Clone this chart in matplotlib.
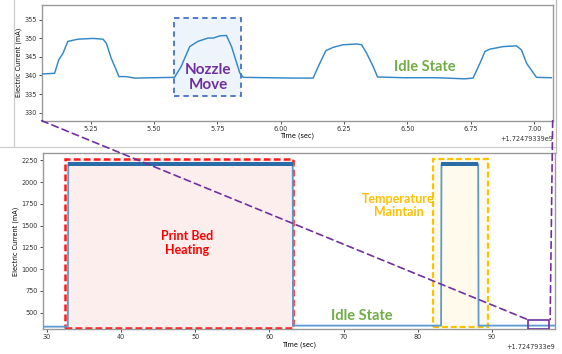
import matplotlib
matplotlib.use("Agg")
import matplotlib.pyplot as plt
from matplotlib.patches import Rectangle, ConnectionPatch
from matplotlib.lines import Line2D

# time base of the logger (epoch seconds)
T_BASE = 1724793300

# zoomed view: a few nozzle moves while idle (seconds after T_BASE + 90)
zoom_t = [5.057, 5.108, 5.124, 5.141, 5.160, 5.200, 5.259, 5.299, 5.312, 5.331,
          5.362, 5.390, 5.424, 5.502, 5.581, 5.607, 5.641, 5.673, 5.713, 5.734,
          5.760, 5.786, 5.806, 5.839, 5.852, 5.944, 6.049, 6.128, 6.148, 6.178,
          6.207, 6.246, 6.299, 6.319, 6.339, 6.365, 6.382, 6.483, 6.614, 6.726,
          6.759, 6.786, 6.806, 6.825, 6.878, 6.930, 6.950, 6.970, 7.009, 7.068]
zoom_ma = [340.4, 340.6, 344.2, 346.0, 349.2, 349.8, 350.0, 349.8, 348.7, 344.7,
           339.7, 339.7, 339.3, 339.4, 339.5, 342.4, 347.8, 349.2, 350.1, 350.1,
           350.7, 350.8, 347.8, 340.6, 339.5, 339.4, 339.3, 339.3, 342.4, 346.7,
           347.6, 348.3, 348.5, 348.3, 346.0, 342.4, 339.6, 339.4, 339.4, 339.1,
           339.3, 343.3, 346.5, 347.1, 347.8, 348.0, 346.9, 343.3, 339.5, 339.4]

# full run: bed heating, idle, temperature maintain (seconds after T_BASE)
full_t = [29.46, 32.85, 32.9, 63.15, 63.2, 83.15, 83.2, 88.15, 88.2, 98.5]
full_ma = [340, 340, 2205, 2205, 352, 352, 2205, 2205, 352, 352]
heat_spans = [(32.9, 63.15), (83.2, 88.15)]
band_lo, band_hi = 2183, 2228

PURPLE = "#7030a0"
GREEN = "#70ad47"
RED = "#ff1a1a"
AMBER = "#ffc000"
FRAME = "#999999"

fig = plt.figure(figsize=(5.62, 3.54), dpi=100)
ax1 = fig.add_axes([0.0742, 0.659, 0.9092, 0.3277])
ax2 = fig.add_axes([0.076, 0.0706, 0.9115, 0.4964])

for ax in (ax1, ax2):
    for s in ax.spines.values():
        s.set_color(FRAME)
        s.set_linewidth(1.0)
    ax.tick_params(labelsize=4.7, length=2, width=0.6, pad=1.5,
                   colors="#333333")
    ax.set_ylabel("Electric Current (mA)", fontsize=4.7, labelpad=2)
    ax.set_xlabel("Time (sec)", fontsize=4.7, labelpad=1)
    ax.xaxis.get_offset_text().set_fontsize(4.7)

# ---- top: zoomed nozzle moves
t_top = [T_BASE + 90 + t for t in zoom_t]
ax1.plot(t_top, zoom_ma, color="#3288c6", linewidth=1.05, zorder=3)
ax1.set_xlim(T_BASE + 95.057, T_BASE + 97.073)
ax1.set_ylim(327.8, 359.1)
ax1.set_yticks([330, 335, 340, 345, 350, 355])
ax1.set_xticks([T_BASE + 95 + k * 0.25 for k in range(1, 9)])

ax1.add_patch(Rectangle((T_BASE + 95.580, 334.6), 0.263, 20.9,
                        facecolor="#eef4fb", edgecolor="#4472c4",
                        linestyle=(0, (3, 2.2)), linewidth=1.3, zorder=2))
ax1.text(T_BASE + 95.713, 339.4, "Nozzle\nMove", color=PURPLE, fontsize=11,
         family="Lato", weight="bold", ha="center", va="center",
         linespacing=1.05, zorder=4)
ax1.text(T_BASE + 96.569, 342.4, "Idle State", color=GREEN, fontsize=10.5,
         family="Lato", weight="bold", ha="center", va="center", zorder=4)

# ---- bottom: whole run
t_full = [T_BASE + t for t in full_t]
ax2.plot(t_full, full_ma, color="#5b9bd0", linewidth=1.3, zorder=3)
for a, b in heat_spans:
    ax2.fill_between([T_BASE + a, T_BASE + b], band_lo, band_hi,
                     color="#2a6ca6", linewidth=0, zorder=3)
ax2.set_xlim(T_BASE + 29.46, T_BASE + 98.5)
ax2.set_ylim(313, 2330)
ax2.set_yticks(range(500, 2251, 250))
ax2.set_xticks([T_BASE + v for v in range(30, 91, 10)])

ax2.add_patch(Rectangle((T_BASE + 32.45, 328), 30.8, 1937,
                        facecolor="#fdeeee", edgecolor=RED,
                        linestyle=(0, (2.7, 1.3)), linewidth=1.8, zorder=2))
ax2.add_patch(Rectangle((T_BASE + 82.0, 339), 7.5, 1926,
                        facecolor="#fffaeb", edgecolor=AMBER,
                        linestyle=(0, (2.7, 1.3)), linewidth=1.6, zorder=2))
ax2.add_patch(Rectangle((T_BASE + 94.8, 318), 2.9, 104,
                        facecolor="none", edgecolor=PURPLE,
                        linewidth=1.2, zorder=4))

ax2.text(T_BASE + 48.9, 1300, "Print Bed\nHeating", color="#ff0000",
         fontsize=9, family="Lato", weight="bold", ha="center", va="center",
         linespacing=1.15, zorder=5)
ax2.text(T_BASE + 77.4, 1731, "Temperature\nMaintain", color=AMBER,
         fontsize=9, family="Lato", weight="bold", ha="center", va="center",
         linespacing=1.15, zorder=5)
ax2.text(T_BASE + 72.5, 466, "Idle State", color=GREEN, fontsize=10.5,
         family="Lato", weight="bold", ha="center", va="center", zorder=5)

# ---- dashed connectors from the zoom box to the top panel
for xa, xb in [(0, T_BASE + 94.8), (1, T_BASE + 97.85)]:
    con = ConnectionPatch(xyA=(xa, 0), coordsA=ax1.transAxes,
                          xyB=(xb, 422), coordsB=ax2.transData,
                          color=PURPLE, linestyle=(0, (4, 2.6)),
                          linewidth=1.2, zorder=10)
    fig.add_artist(con)

# screenshot frame round the upper panel
fig.add_artist(Line2D([14 / 562, 14 / 562], [1, 1 - 146 / 354],
                      transform=fig.transFigure, color="#cccccc", lw=0.9))
fig.add_artist(Line2D([0, 555.5 / 562], [1 - 147 / 354, 1 - 147 / 354],
                      transform=fig.transFigure, color="#cccccc", lw=0.9))
fig.add_artist(Line2D([555.5 / 562, 555.5 / 562], [1, 1 - 153 / 354],
                      transform=fig.transFigure, color="#bbbbbb", lw=0.9))

fig.savefig("out.png", dpi=100)
